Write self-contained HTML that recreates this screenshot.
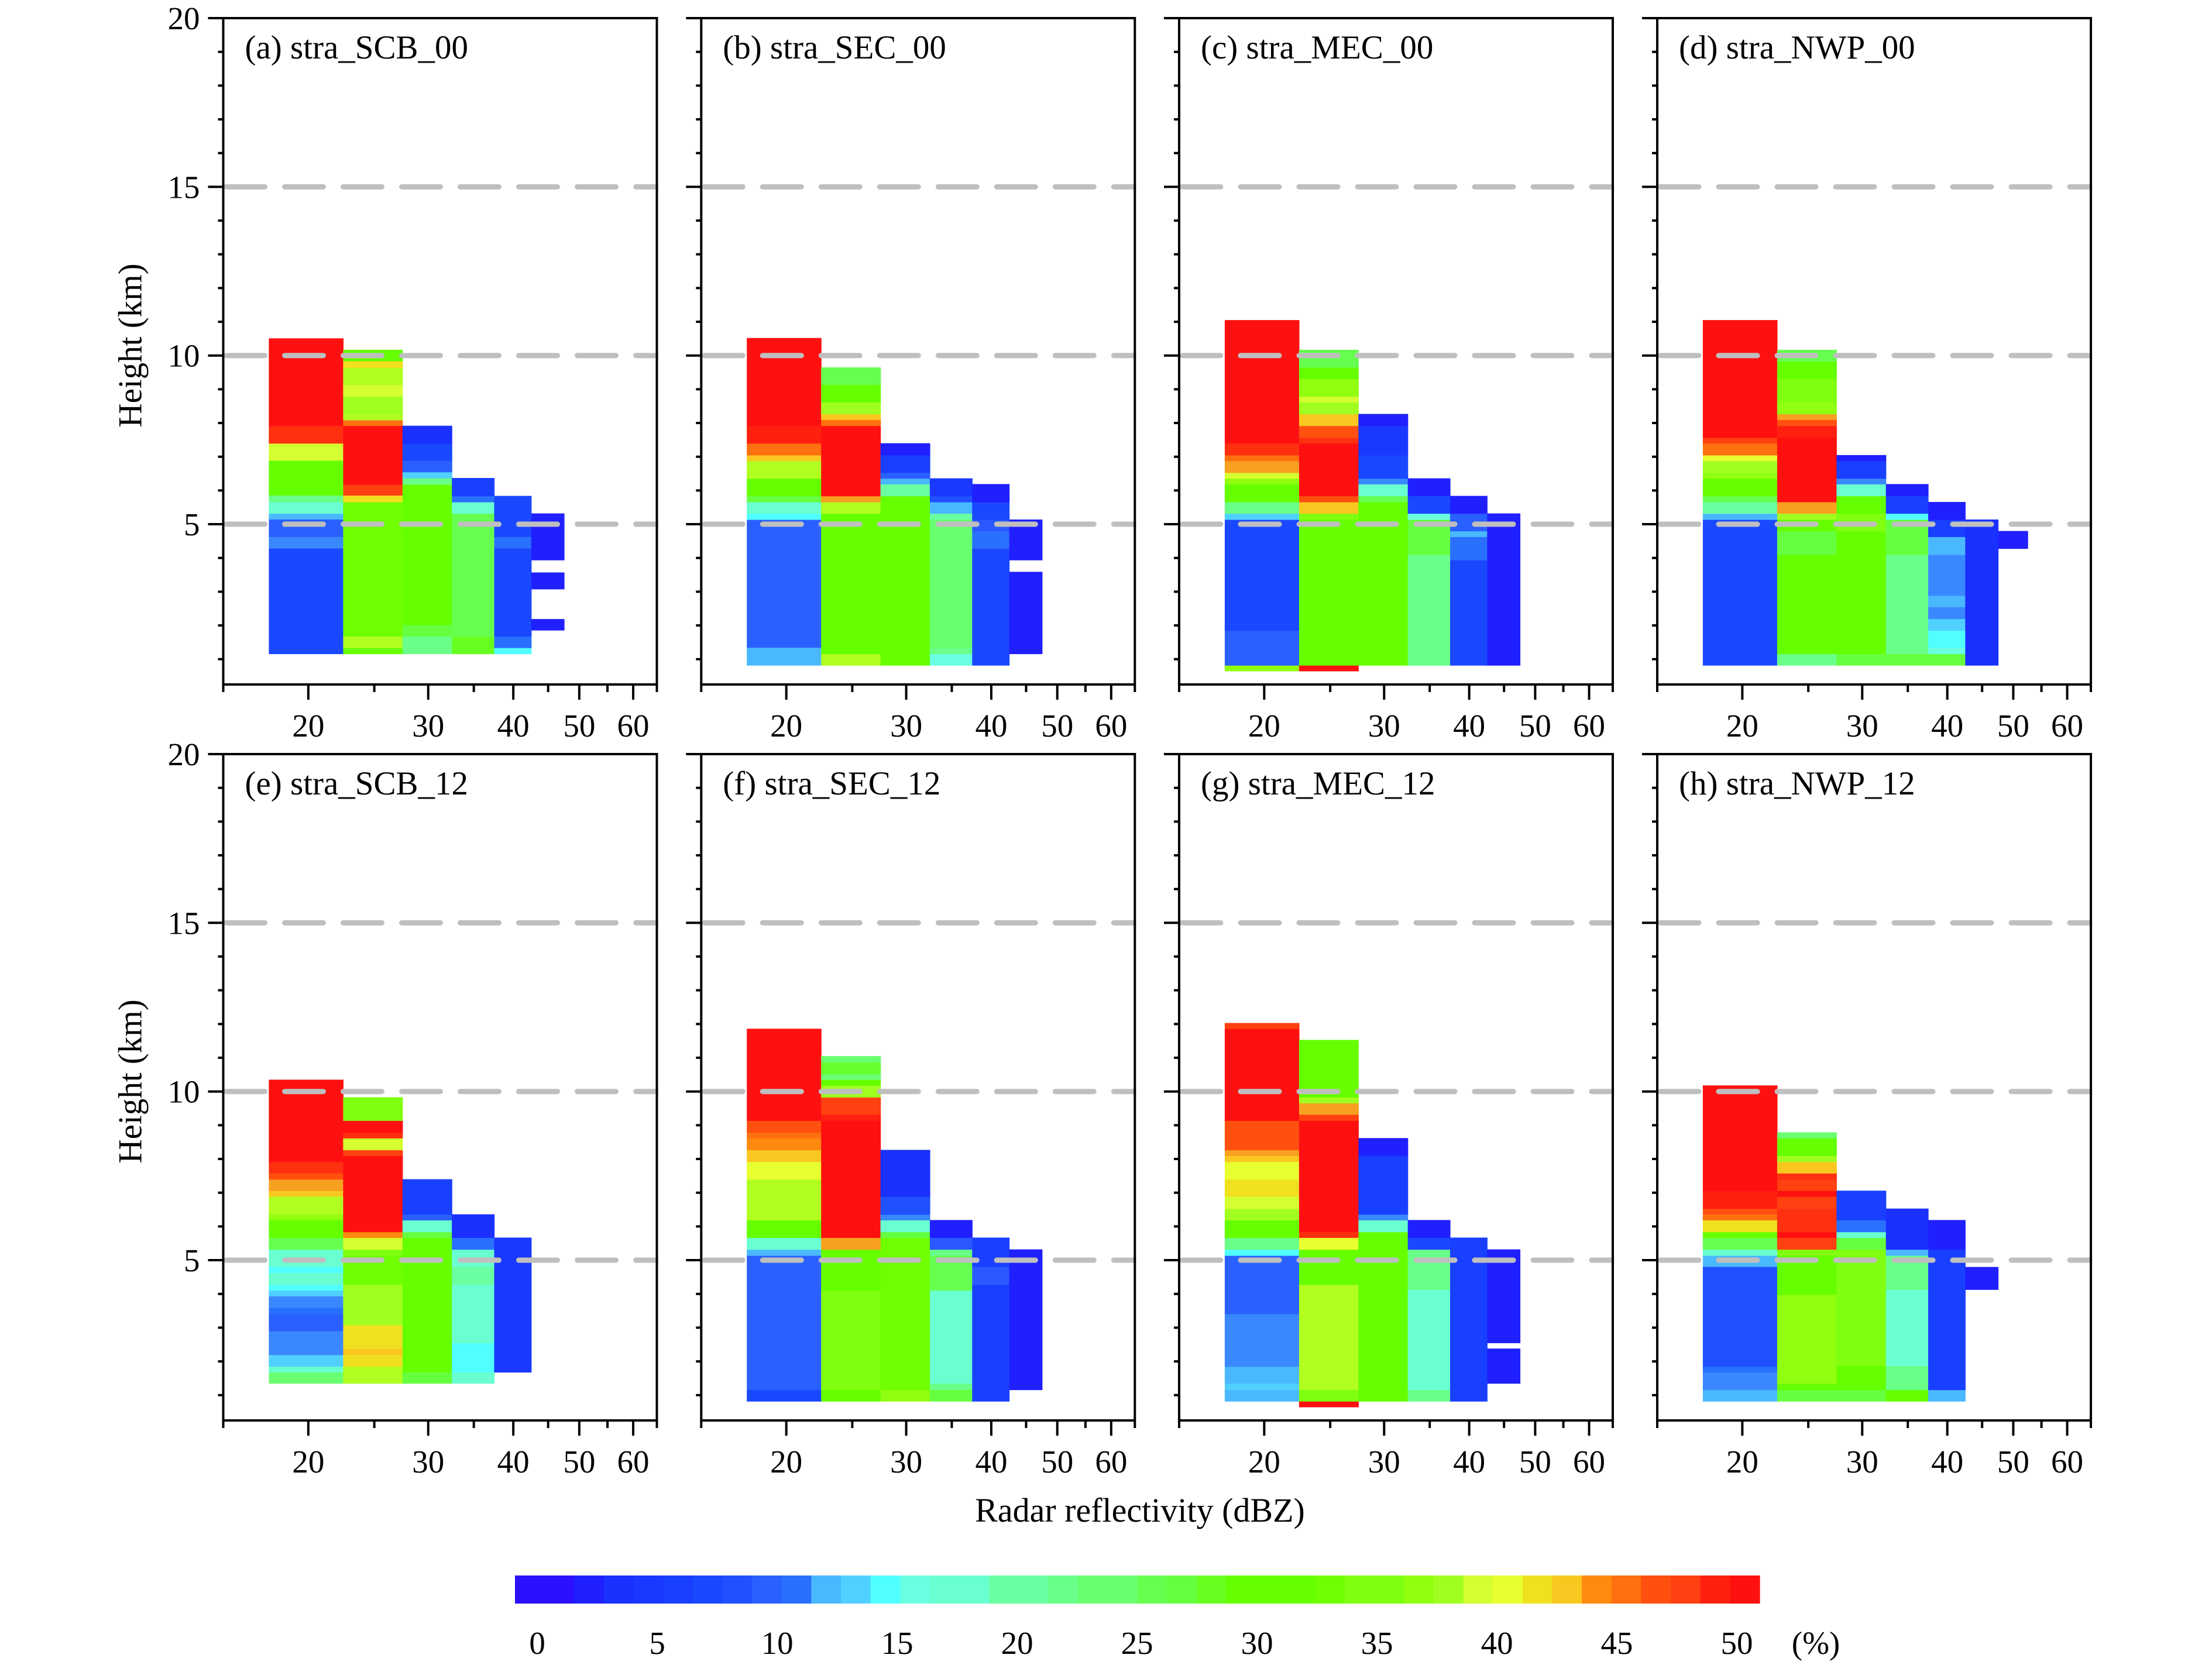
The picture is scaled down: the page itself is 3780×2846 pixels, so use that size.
<!DOCTYPE html>
<html><head><meta charset="utf-8"><title>Reflectivity-height frequency panels</title>
<style>html,body{margin:0;padding:0;background:#fff}svg{display:block}text{font-family:"Liberation Serif",serif;fill:#000}</style>
</head><body>
<svg id="fig" xmlns="http://www.w3.org/2000/svg" width="3780" height="2846" viewBox="0 0 3780 2846">
<rect x="0" y="0" width="3780" height="2846" fill="#fff"/>
</svg>
<script>
// ---- data ----
const binEdges=[17.5,22.5,27.5,32.5,37.5,42.5,47.5,52.5];
const xTicks=[20,30,40,50,60];
const xMinor=[15,25,35,45,55,65];
const yTicks=[5,10,15,20];
const gridLevels=[5,10,15];
const cbTicks=[0,5,10,15,20,25,30,35,40,45,50];
const panelTitles=["(a) stra_SCB_00","(b) stra_SEC_00","(c) stra_MEC_00","(d) stra_NWP_00","(e) stra_SCB_12","(f) stra_SEC_12","(g) stra_MEC_12","(h) stra_NWP_12"];
// segments per column: [bottom km, top km, frequency %]
const panelA=[
[[1.16,4.29,6],[4.29,4.63,11],[4.63,5.15,9],[5.15,5.32,12],[5.32,5.66,16],[5.66,5.86,21],[5.86,6.89,30],[6.89,7.40,39],[7.40,7.92,48],[7.92,10.51,55]],
[[1.16,1.34,30],[1.34,1.68,38],[1.68,5.66,32],[5.66,5.86,41],[5.86,6.18,47],[6.18,7.92,55],[7.92,8.09,45.5],[8.09,8.26,38.5],[8.26,8.79,37],[8.79,9.13,39],[9.13,9.64,38],[9.64,9.84,41],[9.84,10.17,30]],
[[1.16,1.68,21],[1.68,2.02,26],[2.02,6.18,30],[6.18,6.37,21],[6.37,6.55,13],[6.55,6.89,9],[6.89,7.40,6],[7.40,7.92,3]],
[[1.16,1.68,28],[1.68,5.32,25],[5.32,5.66,16],[5.66,5.84,10],[5.84,6.37,5]],
[[1.16,1.34,14],[1.34,1.68,10],[1.68,4.29,6],[4.29,4.63,10],[4.63,5.84,6]],
[[3.94,5.32,2],[3.08,3.57,2],[1.86,2.19,2]],
[]];
const panelB=[
[[0.82,1.35,12],[1.35,5.14,9],[5.14,5.32,14],[5.32,5.66,16],[5.66,5.84,26],[5.84,6.36,30],[6.36,6.88,38],[6.88,7.05,42],[7.05,7.40,45],[7.40,7.92,49],[7.92,10.52,55]],
[[0.82,1.16,38],[1.16,5.32,31],[5.32,5.66,38],[5.66,5.84,43.5],[5.84,7.92,55],[7.92,8.10,45.5],[8.10,8.27,42],[8.27,8.62,37],[8.62,9.14,30],[9.14,9.65,25]],
[[0.82,5.84,30],[5.84,6.19,19],[6.19,6.36,12],[6.36,6.53,9],[6.53,7.05,5],[7.05,7.40,2]],
[[0.82,1.16,15],[1.16,1.35,21],[1.35,5.14,23],[5.14,5.32,19],[5.32,5.66,12],[5.66,5.84,8],[5.84,6.36,4]],
[[0.82,4.28,6],[4.28,4.80,10],[4.80,5.14,8.5],[5.14,5.66,6],[5.66,6.19,2]],
[[1.16,3.59,2],[3.94,5.14,2]],
[]];
const panelC=[
[[0.65,0.82,36],[0.82,1.85,9],[1.85,5.14,7],[5.14,5.32,13],[5.32,5.66,21],[5.66,6.19,30],[6.19,6.36,36],[6.36,6.53,39],[6.53,6.88,43],[6.88,7.05,45],[7.05,7.40,48],[7.40,11.05,55]],
[[0.65,0.82,55],[0.82,5.14,30],[5.14,5.32,34],[5.32,5.66,42],[5.66,5.84,46],[5.84,7.40,55],[7.40,7.57,48],[7.57,7.92,46],[7.92,8.27,42],[8.27,8.62,37],[8.62,8.79,39],[8.79,9.31,36],[9.31,9.65,30],[9.65,10.17,25]],
[[0.82,5.66,30],[5.66,5.84,25],[5.84,6.19,16],[6.19,6.36,11],[6.36,7.05,6],[7.05,7.92,4],[7.92,8.27,2]],
[[0.82,4.10,21],[4.10,5.14,26],[5.14,5.32,15],[5.32,5.84,7],[5.84,6.36,2]],
[[0.82,3.94,6],[3.94,4.63,10],[4.63,4.80,12],[4.80,5.32,9],[5.32,5.84,2]],
[[0.82,5.32,2]],
[]];
const panelD=[
[[0.82,5.14,6],[5.14,5.32,12],[5.32,5.66,19],[5.66,5.84,25],[5.84,6.36,30],[6.36,6.53,36],[6.53,6.88,37],[6.88,7.05,40],[7.05,7.40,45],[7.40,7.57,47],[7.57,11.05,55]],
[[0.82,1.16,21],[1.16,4.10,30],[4.10,4.80,26],[4.80,5.14,30],[5.14,5.32,37],[5.32,5.66,43.5],[5.66,7.57,55],[7.57,7.92,49],[7.92,8.10,46],[8.10,8.27,43.5],[8.27,8.62,36],[8.62,9.31,34],[9.31,9.83,30],[9.83,10.17,25]],
[[0.82,1.16,26],[1.16,4.80,30],[4.80,5.32,34],[5.32,5.84,30],[5.84,6.19,16],[6.19,6.36,11],[6.36,6.88,5],[6.88,7.05,2]],
[[0.82,1.16,26],[1.16,4.10,21],[4.10,5.14,26],[5.14,5.32,14],[5.32,5.84,5],[5.84,6.19,2]],
[[0.82,1.16,26],[1.16,1.35,15],[1.35,1.85,14],[1.85,2.20,13],[2.20,2.55,11],[2.55,2.89,12],[2.89,4.10,11],[4.10,4.63,12],[4.63,5.14,5],[5.14,5.66,2]],
[[0.82,5.14,3]],
[[4.28,4.80,2]]];
const panelE=[
[[1.35,1.68,23],[1.68,1.85,16],[1.85,2.20,13],[2.20,2.90,11],[2.90,3.41,9],[3.41,3.60,10],[3.60,3.94,11],[3.94,4.11,13],[4.11,4.28,14],[4.28,4.63,16],[4.63,4.81,14],[4.81,5.32,16],[5.32,5.67,25],[5.67,6.19,30],[6.19,6.36,36],[6.36,6.89,38],[6.89,7.06,42],[7.06,7.40,43],[7.40,7.58,46],[7.58,7.92,48],[7.92,10.35,55]],
[[1.35,1.85,38],[1.85,2.20,41],[2.20,2.38,42],[2.38,3.08,41],[3.08,4.28,37],[4.28,5.14,32],[5.14,5.32,34],[5.32,5.67,39],[5.67,5.84,44],[5.84,8.10,55],[8.10,8.27,47],[8.27,8.62,39],[8.62,8.79,48],[8.79,9.14,55],[9.14,9.83,35]],
[[1.35,1.68,26],[1.68,5.67,31],[5.67,5.84,26],[5.84,6.19,16],[6.19,6.36,9],[6.36,7.40,5]],
[[1.35,1.68,16],[1.68,2.55,14],[2.55,4.28,16],[4.28,4.81,19],[4.81,5.32,16],[5.32,5.67,10],[5.67,6.36,3]],
[[1.68,5.67,4]],
[],[]];
const panelF=[
[[0.82,1.16,6],[1.16,5.14,9],[5.14,5.32,12],[5.32,5.67,16],[5.67,6.19,30],[6.19,7.40,38],[7.40,7.92,40],[7.92,8.27,42],[8.27,8.62,44],[8.62,8.79,45],[8.79,9.14,46],[9.14,11.86,55]],
[[0.82,1.16,30],[1.16,4.11,34],[4.11,5.32,30],[5.32,5.67,43],[5.67,9.14,55],[9.14,9.32,49],[9.32,9.83,47],[9.83,10.18,37],[10.18,10.35,30],[10.35,10.52,23],[10.52,10.87,27],[10.87,11.05,23]],
[[0.82,1.16,36],[1.16,5.67,33],[5.67,5.84,26],[5.84,6.19,16],[6.19,6.36,11],[6.36,6.89,8],[6.89,8.27,3]],
[[0.82,1.16,26],[1.16,1.35,21],[1.35,4.11,16],[4.11,5.14,25],[5.14,5.32,21],[5.32,5.67,8.5],[5.67,6.19,2]],
[[0.82,4.28,5],[4.28,4.81,8.5],[4.81,5.67,5]],
[[1.16,5.32,2]],
[]];
const panelG=[
[[0.82,1.16,12],[1.16,1.35,13],[1.35,1.85,12],[1.85,3.41,11],[3.41,5.14,9],[5.14,5.32,14],[5.32,5.67,21],[5.67,6.19,30],[6.19,6.53,37],[6.53,6.89,39],[6.89,7.40,41],[7.40,7.92,40],[7.92,8.10,42],[8.10,8.27,43],[8.27,9.14,46],[9.14,11.86,55],[11.86,12.03,47]],
[[0.65,0.82,55],[0.82,1.16,34],[1.16,4.28,38],[4.28,5.32,30],[5.32,5.67,40],[5.67,5.84,48],[5.84,9.14,55],[9.14,9.32,47],[9.32,9.66,43],[9.66,9.83,37],[9.83,11.53,30]],
[[0.82,5.84,30],[5.84,6.19,16],[6.19,6.36,11],[6.36,8.10,5],[8.10,8.62,2]],
[[0.82,1.16,21],[1.16,4.13,16],[4.13,5.32,21],[5.32,5.67,7],[5.67,6.19,2]],
[[0.82,5.67,5]],
[[1.35,2.38,2],[2.55,5.32,2]],
[]];
const panelH=[
[[0.82,1.16,12],[1.16,1.68,11],[1.68,1.85,10],[1.85,4.81,8],[4.81,5.14,12],[5.14,5.32,16],[5.32,5.67,25],[5.67,5.84,30],[5.84,6.19,41],[6.19,6.36,45],[6.36,6.53,46],[6.53,7.06,49],[7.06,10.18,55]],
[[0.82,1.16,26],[1.16,1.35,30],[1.35,3.98,36],[3.98,5.14,30],[5.14,5.32,34],[5.32,5.67,47],[5.67,5.84,55],[5.84,6.53,48],[6.53,6.89,47],[6.89,7.06,55],[7.06,7.40,47],[7.40,7.58,48],[7.58,7.92,42],[7.92,8.10,37],[8.10,8.62,30],[8.62,8.79,23]],
[[0.82,1.16,26],[1.16,1.87,30],[1.87,5.32,34],[5.32,5.67,26],[5.67,5.84,16],[5.84,6.19,10],[6.19,7.06,5]],
[[0.82,1.16,30],[1.16,1.87,21],[1.87,4.13,16],[4.13,5.14,21],[5.14,5.32,12],[5.32,6.53,3]],
[[0.82,1.16,12],[1.16,5.32,5],[5.32,6.19,2]],
[[4.13,4.80,2]],
[]];
const panels=[panelA,panelB,panelC,panelD,panelE,panelF,panelG,panelH];
// colormap stops (percent -> colour)
const cmapVals=[-5,1,3,4,5,6,8,8.5,9,10,11,12,13,14,15,16,19,21,23,25,26,27,28,29,32,34,36,37,38,39,40,41,42,43,44,45,46,47,48,49,50];
const cmapCols=["#2a10ff","#2020ff","#1a30ff","#1a38ff","#1a40ff","#1a48ff","#2050ff","#2a5aff","#2a60ff","#2a70ff","#3a88ff","#4ab8ff","#50d0ff","#50ffff","#6affe0","#6affd0","#6affa0","#6aff88","#6aff70","#66ff50","#66ff40","#66ff30","#66ff20","#66ff00","#70ff00","#80ff10","#90ff10","#a0ff20","#b0ff20","#d4ff30","#e8ff30","#f0e020","#f8c820","#f8a020","#ff8a10","#ff7010","#ff5010","#ff4010","#ff3010","#ff2010","#ff1010"];

// ---- layout ----
const NS="http://www.w3.org/2000/svg";
const svg=document.getElementById('fig');
const lefts=[381.5,1198.3,2015,2832];
const tops=[31,1289];
const PW=741, KPX=57.67, HMIN=0.25, HMAX=20, XMIN=15, XMAX=65;
const PH=(HMAX-HMIN)*KPX;
function colorOf(v){let c=cmapCols[0];for(let i=0;i<cmapVals.length;i++){if(v>=cmapVals[i])c=cmapCols[i];}return c;}
function mk(tag,attrs,parent){const e=document.createElementNS(NS,tag);for(const k in attrs)e.setAttribute(k,attrs[k]);(parent||svg).appendChild(e);return e;}
function txt(s,attrs,parent){const e=mk('text',attrs,parent);e.textContent=s;return e;}

panels.forEach((cols,pi)=>{
  const L=lefts[pi%4], T=tops[Math.floor(pi/4)], B=T+PH;
  const xs=v=>L+PW*Math.log(v/XMIN)/Math.log(XMAX/XMIN);
  const ys=h=>T+(HMAX-h)*KPX;
  const g=mk('g',{});
  
  
  cols.forEach((segs,ci)=>{
    segs.forEach(s=>{
      const r=mk('rect',{x:xs(binEdges[ci]).toFixed(1),y:ys(s[1]).toFixed(1),width:(xs(binEdges[ci+1])-xs(binEdges[ci])+0.6).toFixed(1),height:(ys(s[0])-ys(s[1])+0.6).toFixed(1),fill:colorOf(s[2])},g);
      
      
    });
  });
  gridLevels.forEach(h=>{
    const l=mk('line',{x1:L+5,x2:L+PW-2,y1:ys(h),y2:ys(h),stroke:'#bfbfbf','stroke-width':9,'stroke-dasharray':'66 34','stroke-linecap':'round'},g);
    
    
  });
  const fr=mk('rect',{x:L,y:T,width:PW,height:PH,fill:'none',stroke:'#000','stroke-width':4},g);
  
  
  for(let h=1;h<=20;h++){
    const major=yTicks.includes(h);
    const t=mk('line',{x1:L-(major?26:9),x2:L,y1:ys(h),y2:ys(h),stroke:'#000','stroke-width':4},g);
    
    
    if(major && pi%4===0){
      const lb=txt(String(h),{x:L-40,y:ys(h)+19,'font-size':55,'text-anchor':'end'},g);
      
      
    }
  }
  xTicks.forEach(v=>{
    const t=mk('line',{x1:xs(v),x2:xs(v),y1:B,y2:B+26,stroke:'#000','stroke-width':4},g);
    
    
    const lb=txt(String(v),{x:xs(v),y:B+89,'font-size':55,'text-anchor':'middle'},g);
    
    
  });
  xMinor.forEach(v=>{
    const t=mk('line',{x1:xs(v),x2:xs(v),y1:B,y2:B+13,stroke:'#000','stroke-width':4},g);
    
    
  });
  const ti=txt(panelTitles[pi],{x:L+37,y:T+69,'font-size':57},g);
  
  
  if(pi%4===0){
    const yt=txt('Height (km)',{x:0,y:0,'font-size':57,'text-anchor':'middle',transform:'translate('+(L-140)+','+(T+PH/2-10)+') rotate(-90)'},g);
    
    
  }
});
const xt=txt('Radar reflectivity (dBZ)',{x:1948,y:2601,'font-size':58,'text-anchor':'middle'});



// colorbar
const CB0=-0.93, CB1=50.95, CBL=880, CBR=3007, CBT=2693, CBH=48, NB=42;
const cbx=v=>CBL+(v-CB0)*(CBR-CBL)/(CB1-CB0);
const cg=mk('g',{});


for(let i=0;i<NB;i++){
  const a=CB0+(CB1-CB0)*i/NB, b=CB0+(CB1-CB0)*(i+1)/NB;
  const r=mk('rect',{x:cbx(a).toFixed(1),y:CBT,width:(cbx(b)-cbx(a)+0.6).toFixed(1),height:CBH,fill:colorOf((a+b)/2)},cg);
  
  
}
cbTicks.forEach(v=>{
  const lb=txt(String(v),{x:cbx(v),y:2827,'font-size':55,'text-anchor':'middle'},cg);
  
  
});
const pu=txt('(%)',{x:3103,y:2827,'font-size':55,'text-anchor':'middle'},cg);


</script>
</body></html>
